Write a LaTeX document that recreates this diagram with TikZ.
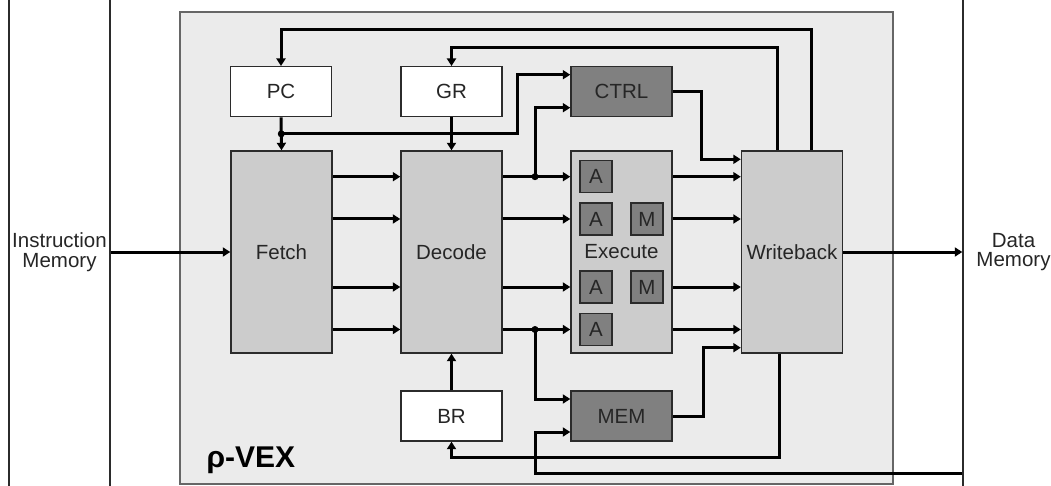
\documentclass[tikz,border=0pt]{standalone}
\usepackage{fontspec}
\setmainfont{Liberation Sans}
\usetikzlibrary{arrows.meta,calc}
\definecolor{vexc}{HTML}{EBEBEB}
\definecolor{stagec}{HTML}{CCCCCC}
\definecolor{unitc}{HTML}{808080}
\definecolor{bordc}{HTML}{2B2B2B}
\definecolor{txtc}{HTML}{262626}
\begin{document}
\begin{tikzpicture}[x=1pt,y=-1pt,
  lbl/.style={font=\fontsize{20.5}{19.5}\selectfont, text=txtc},
  blk/.style={lbl, draw=bordc, line width=1.4pt, inner sep=0pt, minimum width=101pt},
  stage/.style={blk, fill=stagec, minimum height=202pt},
  reg/.style={blk, fill=white, minimum height=50pt},
  unitbox/.style={blk, fill=unitc, minimum height=50pt},
  fu/.style={blk, fill=unitc, minimum width=32pt, minimum height=32pt},
  memside/.style={lbl, draw=bordc, line width=1.4pt, inner sep=0pt, minimum width=101pt, minimum height=530pt, align=center},
  arr/.style={line width=3pt, -{Triangle[length=7.5pt,width=9pt]}},
  junc/.style={fill=black}
]
\useasboundingbox (0,0) rectangle (1051,486);
\clip (0,0) rectangle (1051,486);
\fill[white] (0,0) rectangle (1051,486);

% processor frame
\node[draw=black!60, fill=vexc, line width=1.3pt, inner sep=0pt,
      minimum width=713pt, minimum height=472pt] (vex) at (536.5,248) {};
\node[anchor=base west, font=\fontsize{30}{30}\selectfont\bfseries, text=black] (vexlabel) at (203,467) {ρ-VEX};

% memories
\node[memside] (imem) at (59.5,252) {Instruction\\Memory};
\node[memside] (dmem) at (1013.5,252) {Data\\Memory};

% stages
\node[stage] (fetch)  at (281.5,252) {Fetch};
\node[stage] (decode) at (451.5,252) {Decode};
\node[stage] (exec)   at (621.5,252) {Execute};
\node[stage] (wb)     at (792,252)   {Writeback};

% registers and units
\node[reg] (pc) at (281,91.7) {PC};
\node[reg] (gr) at (451.5,91.7) {GR};
\node[reg] (br) at (451.5,416) {BR};
\node[unitbox] (ctrl) at (621.5,91.7) {CTRL};
\node[unitbox] (mem)  at (621.5,416) {MEM};

% functional units
\node[fu] (a1) at (596,176.7) {A};
\node[fu] (a2) at (596,219) {A};
\node[fu] (a3) at (596,287) {A};
\node[fu] (a4) at (596,329.5) {A};
\node[fu] (m1u) at (647,219) {M};
\node[fu] (m2u) at (647,287) {M};

% helper coordinates
\coordinate (jx) at (535,0);
\coordinate (t1) at (0,30);
\coordinate (t2) at (0,47.7);
\coordinate (b1) at (0,457);
\coordinate (b2) at (0,473);
\coordinate (d1) at ($(pc.south)!0.5!(fetch.north)$);
\coordinate (d2) at (jx |- a1);
\coordinate (d3) at (jx |- a4);
\coordinate (c1) at ([yshift=17pt]ctrl.west);
\coordinate (c2) at ([yshift=-16pt]ctrl.west);
\coordinate (m1) at ([yshift=17pt]mem.west);
\coordinate (m2) at ([yshift=-16pt]mem.west);
\coordinate (w1) at ($(wb.north west)+(0,9)$);
\coordinate (w2) at ($(wb.south west)+(0,-6)$);

% connectors
\draw[arr] (imem.east |- fetch.west) -- (fetch.west);
\foreach \a in {a1,a2,a3,a4} {
  \draw[arr] (fetch.east |- \a) -- (decode.west |- \a);
  \draw[arr] (decode.east |- \a) -- (exec.west |- \a);
  \draw[arr] (exec.east |- \a) -- (wb.west |- \a);
}
\draw[arr] (wb.east) -- (dmem.west |- wb.east);
\draw[arr] ([xshift=19pt]wb.north) |- (pc.north |- t1) -- (pc.north);
\draw[arr] ([xshift=-15pt]wb.north) |- (gr.north |- t2) -- (gr.north);
\draw[arr] (pc.south) -- (fetch.north);
\draw[arr] (gr.south) -- (decode.north);
\draw[arr] (d1) -| ($(c1)+(-53,0)$) -- (c1);
\draw[arr] (d2) |- (c2);
\draw[arr] (ctrl.east) -| ($(w1)+(-39,0)$) -- (w1);
\draw[arr] (d3) |- (m1);
\draw[arr] (mem.east) -| ($(w2)+(-37,0)$) -- (w2);
\draw[arr] ([xshift=-13pt]wb.south) |- (br.south |- b1) -- (br.south);
\draw[arr] (dmem.west |- b2) -| (jx |- m2) -- (m2);
\draw[arr] (br.north) -- (decode.south);

% junctions
\fill[junc] (d1) circle (3.5pt);
\fill[junc] (d2) circle (3.5pt);
\fill[junc] (d3) circle (3.5pt);
\end{tikzpicture}
\end{document}
